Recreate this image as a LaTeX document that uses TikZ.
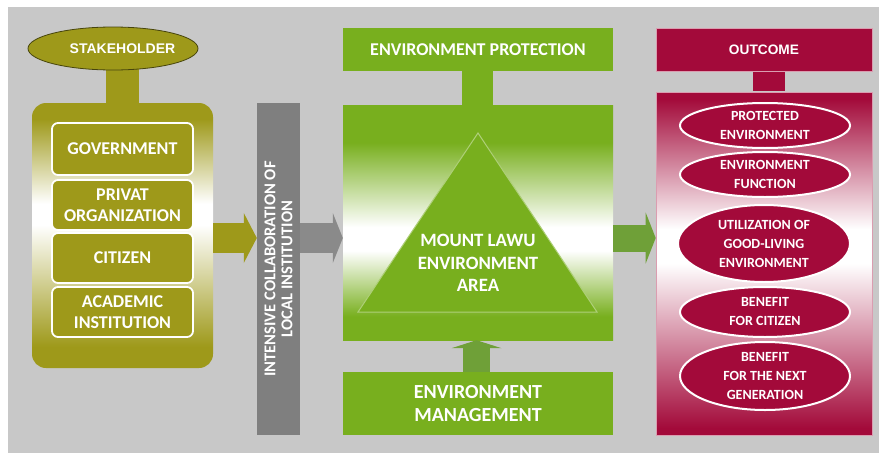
\documentclass[tikz,border=0pt]{standalone}
\usepackage{fontspec}
\setmainfont{Carlito}
\newfontfamily\arialfont{Liberation Sans}
\usepackage{tikz}
\usetikzlibrary{positioning,arrows.meta,calc,shapes.geometric}

\definecolor{bgc}{RGB}{200,200,200}
\definecolor{olivec}{RGB}{158,153,26}
\definecolor{greenc}{RGB}{120,175,30}
\definecolor{arrowg}{RGB}{111,160,56}
\definecolor{crimc}{RGB}{163,10,58}
\definecolor{barc}{RGB}{127,127,127}
\definecolor{graya}{RGB}{138,138,138}

\pgfdeclareverticalshading{olivefade}{100bp}{color(0bp)=(olivec); color(29bp)=(olivec); color(52bp)=(white); color(56bp)=(white); color(72bp)=(olivec); color(100bp)=(olivec)}
\pgfdeclareverticalshading{greenfade}{100bp}{color(0bp)=(greenc); color(30bp)=(greenc); color(44bp)=(white); color(49bp)=(white); color(67bp)=(greenc); color(100bp)=(greenc)}
\pgfdeclareverticalshading{crimfade}{100bp}{color(0bp)=(crimc); color(26bp)=(crimc); color(50bp)=(white); color(55bp)=(white); color(74bp)=(crimc); color(100bp)=(crimc)}

\begin{document}
\begin{tikzpicture}[x=1pt,y=-1pt,
  every node/.style={text=white, align=center, inner sep=0pt},
  stakebox/.style={ellipse, fill=olivec, draw=olivec!45!black, line width=0.8pt,
    minimum width=170pt, minimum height=43pt},
  groupbox/.style={rounded corners=14pt, shading=olivefade, minimum width=181pt, minimum height=265pt},
  memberbox/.style={rounded corners=6pt, fill=olivec, draw=white, line width=1.8pt,
    minimum width=141pt, minimum height=50pt, font=\bfseries\fontsize{18}{21}\selectfont},
  barbox/.style={fill=barc, minimum width=332pt, minimum height=43pt,
    font=\bfseries\fontsize{16.5}{17}\selectfont},
  greenbox/.style={fill=greenc, minimum width=270pt, font=\bfseries\fontsize{18}{19}\selectfont},
  crimbox/.style={fill=crimc, draw=crimc!40!white, line width=0.6pt, minimum width=216pt},
  outitem/.style={ellipse, fill=crimc, draw=white, line width=2pt, minimum width=170pt,
    font=\bfseries\fontsize{14}{19}\selectfont},
  fat/.style={line width=30pt, -{Triangle[length=13pt, width=50pt, line width=0pt]}}
]
\useasboundingbox (0,0) rectangle (879,453);
\fill[bgc] (8,7) rectangle (879,453);

% stakeholders
\node[groupbox] (group) at (122.5,235.5) {};
\coordinate (stakec) at (113,48.5);
\fill[olivec] ($(group.north)+(-16.5,2)$) rectangle ($(group.north |- stakec)+(16.5,0)$);
\node[stakebox] (stake) at (stakec) {};
\node[font=\arialfont\bfseries\fontsize{14}{16}\selectfont] (staketext) at (stake.center -| group.north) {STAKEHOLDER};
\node[memberbox, minimum height=52pt] (gov) at (122.5,149) {GOVERNMENT};
\node[memberbox] (priv) at (122.5,205) {PRIVAT\\ORGANIZATION};
\node[memberbox] (cit) at (122.5,258) {CITIZEN};
\node[memberbox] (acad) at (122.5,312) {ACADEMIC\\INSTITUTION};

% collaboration bar
\node[barbox, rotate=90] (bar) at (278.5,269) {INTENSIVE COLLABORATION OF\\LOCAL INSTITUTION};

% environment area
\node[shading=greenfade, minimum width=270pt, minimum height=235pt] (area) at (478,222.5) {};
\node[greenbox, minimum height=43pt] (prot) at (478,49.5) {ENVIRONMENT PROTECTION};
\node[greenbox, minimum height=63pt, font=\bfseries\fontsize{20}{23}\selectfont] (mgmt) at (478,403.5) {ENVIRONMENT\\MANAGEMENT};
\fill[greenc] ($(prot.south)+(-16,0)$) rectangle ($(area.north)+(15,0)$);
\coordinate (peak) at (478,133);
\coordinate (baseL) at (358,312);
\coordinate (baseR) at (597,312);
\draw[fill=greenc, draw=greenc!60!white, line width=1pt] (peak) -- (baseL) -- (baseR) -- cycle;
\node[font=\bfseries\fontsize{18.8}{22.5}\selectfont] (lawu) at (478,263) {MOUNT LAWU\\ENVIRONMENT\\AREA};

% outcome
\node[crimbox, minimum height=43pt, font=\arialfont\bfseries\fontsize{13.7}{16}\selectfont] (otop) at (764,49.5) {OUTCOME};
\node[crimbox, shading=crimfade, minimum height=343pt] (outc) at (764,263.5) {};
\fill[crimc] ($(otop.south)+(-11,0.4)$) rectangle ($(outc.north)+(21,-0.4)$);
\node[outitem, minimum height=45pt] (prot2) at (765,125.5) {PROTECTED\\ENVIRONMENT};
\node[outitem, minimum height=45pt] (func) at (765,174.5) {ENVIRONMENT\\FUNCTION};
\node[outitem, minimum width=172pt, minimum height=77pt] (util) at (764,243.5) {UTILIZATION OF\\GOOD-LIVING\\ENVIRONMENT};
\node[outitem, minimum height=50pt] (bcit) at (765,312) {BENEFIT\\FOR CITIZEN};
\node[outitem, minimum height=68pt] (bnext) at (765,376) {BENEFIT\\FOR THE NEXT\\GENERATION};

% arrows
\coordinate (row) at (0,238);
\draw[fat, olivec] (group.east |- row) -- (bar.north |- row);
\draw[fat, graya, -{Triangle[length=10pt, width=50pt, line width=0pt]}] (bar.south |- row) -- (area.west |- row);
\draw[fat, arrowg, line width=27pt, -{Triangle[length=10pt, width=51pt, line width=0pt]}] (area.east |- row) -- (outc.west |- row);
\draw[fat, arrowg, line width=27pt, -{Triangle[length=8pt, width=50pt, line width=0pt]}] ([xshift=-1.5pt]mgmt.north) -- ([xshift=-1.5pt]area.south);
\end{tikzpicture}
\end{document}
